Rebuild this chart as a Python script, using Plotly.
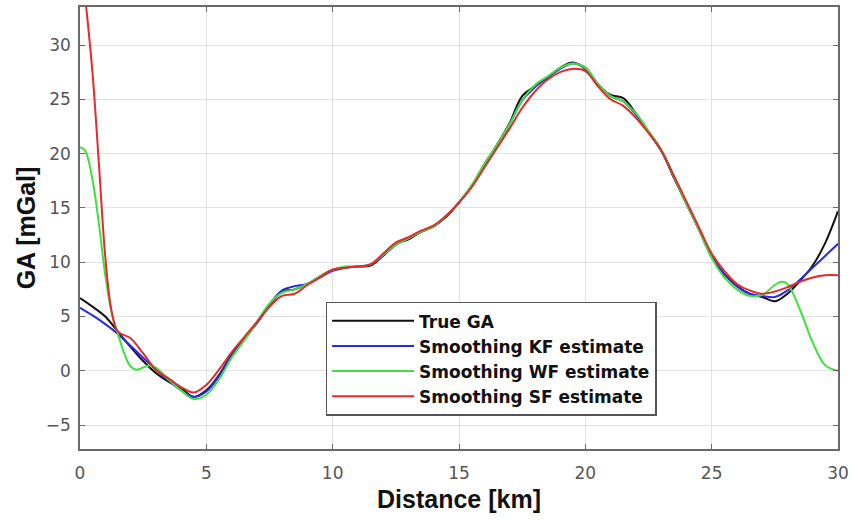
import plotly.graph_objects as go

# ---- data ----
dist = [i * 0.5 for i in range(61)]

ga_true = [6.7, 5.9, 5.0, 3.6, 2.2, 0.9, -0.2, -1.0, -1.6, -2.4,
           -1.8, -0.4, 1.5, 2.9, 4.4, 6.0, 7.3, 7.5, 8.0, 8.7,
           9.3, 9.5, 9.6, 9.7, 10.6, 11.7, 12.1, 12.8, 13.3, 14.2,
           15.5, 17.0, 19.0, 20.8, 22.8, 25.3, 26.2, 27.0, 27.9, 28.4,
           27.8, 26.3, 25.4, 25.1, 23.7, 22.0, 20.3, 17.8, 15.4, 13.0,
           10.5, 8.9, 7.8, 7.1, 6.8, 6.4, 7.1, 8.3, 9.7, 11.8,
           14.7]

ga_kf = [5.8, 5.1, 4.3, 3.4, 2.3, 1.2, 0.1, -0.9, -1.8, -2.4,
         -1.9, -0.5, 1.4, 2.9, 4.4, 6.1, 7.4, 7.8, 8.0, 8.6,
         9.2, 9.5, 9.6, 9.8, 10.6, 11.6, 12.2, 12.8, 13.3, 14.2,
         15.5, 17.0, 18.9, 20.7, 22.7, 24.9, 26.1, 27.0, 27.8, 28.3,
         27.9, 26.4, 25.3, 24.8, 23.6, 22.0, 20.3, 17.9, 15.4, 13.0,
         10.5, 8.9, 7.8, 7.1, 6.9, 6.8, 7.4, 8.4, 9.5, 10.6,
         11.7]

dist_wf = [0.0, 0.2, 0.5, 0.75, 1.0, 1.25, 1.5, 1.75, 2.0, 2.25, 2.5, 2.75,
           3.0, 3.5, 4.0, 4.5, 5.0, 5.5, 6.0, 6.5, 7.0, 7.5, 8.0, 8.5,
           9.0, 9.5, 10.0, 10.5, 11.0, 11.5, 12.0, 12.5, 13.0, 13.5, 14.0,
           14.5, 15.0, 15.5, 16.0, 16.5, 17.0, 17.5, 18.0, 18.5, 19.0, 19.5,
           20.0, 20.5, 21.0, 21.5, 22.0, 22.5, 23.0, 23.5, 24.0, 24.5, 25.0,
           25.5, 26.0, 26.5, 27.0, 27.5, 27.75, 28.0, 28.5, 29.0, 29.5, 30.0]
ga_wf = [20.6, 20.3, 17.5, 13.5, 8.8, 5.4, 3.4, 1.6, 0.4, 0.1, 0.3, 0.5,
         0.3, -0.8, -1.8, -2.6, -2.2, -0.8, 1.2, 2.8, 4.5, 6.2, 7.2, 7.5,
         8.0, 8.7, 9.3, 9.6, 9.6, 9.8, 10.7, 11.6, 12.2, 12.8, 13.3,
         14.3, 15.5, 17.1, 19.0, 20.8, 22.7, 24.9, 26.3, 27.1, 27.9, 28.3,
         27.9, 26.4, 25.3, 24.8, 23.7, 22.1, 20.4, 17.9, 15.4, 13.0, 10.4,
         8.6, 7.5, 6.9, 7.0, 7.9, 8.2, 8.0, 5.6, 2.6, 0.5, 0.0]

dist_sf = [0.0, 0.25, 0.5, 0.75, 1.0, 1.25, 1.5, 2.0, 2.5, 3.0, 3.5, 4.0,
           4.5, 5.0, 5.5, 6.0, 6.5, 7.0, 7.5, 8.0, 8.5, 9.0, 9.5, 10.0,
           10.5, 11.0, 11.5, 12.0, 12.5, 13.0, 13.5, 14.0, 14.5, 15.0, 15.5,
           16.0, 16.5, 17.0, 17.5, 18.0, 18.5, 19.0, 19.5, 20.0, 20.5, 21.0,
           21.5, 22.0, 22.5, 23.0, 23.5, 24.0, 24.5, 25.0, 25.5, 26.0, 26.5,
           27.0, 27.5, 28.0, 28.5, 29.0, 29.5, 30.0]
ga_sf = [39.0, 33.4, 27.3, 19.0, 10.5, 5.5, 3.6, 3.0, 1.6, 0.1, -0.7, -1.5,
         -2.0, -1.3, 0.1, 1.7, 3.1, 4.5, 5.9, 6.9, 7.1, 7.9, 8.6, 9.3,
         9.5, 9.6, 9.8, 10.8, 11.8, 12.3, 12.9, 13.4, 14.3, 15.5, 16.9,
         18.7, 20.5, 22.3, 24.2, 25.7, 26.8, 27.5, 27.8, 27.6, 26.2, 25.0,
         24.4, 23.3, 21.9, 20.3, 18.0, 15.6, 13.2, 10.8, 9.2, 8.0, 7.4,
         7.1, 7.3, 7.7, 8.2, 8.6, 8.8, 8.8]

names = ["True GA", "Smoothing KF estimate", "Smoothing WF estimate", "Smoothing SF estimate"]
colors = ["#111111", "#2a2ae6", "#3ee03e", "#e42a2a"]

FONT = "Liberation Sans, Arial, sans-serif"
TICKFONT = "DejaVu Sans, sans-serif"

fig = go.Figure()
series = [(dist, ga_true), (dist, ga_kf), (dist_wf, ga_wf), (dist_sf, ga_sf)]
for (xs, ys), n, c in zip(series, names, colors):
    fig.add_trace(go.Scatter(x=xs, y=ys, mode="lines", name=n,
                             line=dict(color=c, width=2, shape="spline", smoothing=1.0)))

axis_common = dict(
    showgrid=True, gridcolor="#e2e2e2", gridwidth=1,
    showline=True, linecolor="#6a6a6a", linewidth=1.5, mirror="ticks",
    ticks="inside", ticklen=5, tickcolor="#6a6a6a", tickwidth=1,
    zeroline=False,
    tickfont=dict(family=TICKFONT, size=17, color="#555555"),
)

fig.update_layout(
    width=854, height=520,
    margin=dict(l=80, r=14, t=5, b=71),
    paper_bgcolor="white", plot_bgcolor="white",
    showlegend=True,
    legend=dict(x=0.324, y=0.333, xanchor="left", yanchor="top",
                bgcolor="white", bordercolor="#555555", borderwidth=1.5,
                font=dict(family="DejaVu Sans, sans-serif", size=17, color="#111111",
                          weight="bold"),
                tracegroupgap=0, itemwidth=82),
    xaxis=dict(range=[0, 30], tickvals=[0, 5, 10, 15, 20, 25, 30],
               ticklabelstandoff=8,
               title=dict(text="Distance [km]", standoff=8,
                          font=dict(family=FONT, size=25, color="#111111", weight="bold")),
               **axis_common),
    yaxis=dict(range=[-7.2, 33.5], tickvals=[-5, 0, 5, 10, 15, 20, 25, 30],
               ticklabelstandoff=4,
               title=dict(text="GA [mGal]", standoff=3,
                          font=dict(family=FONT, size=25, color="#111111", weight="bold")),
               **axis_common),
)

fig.write_html("out.html", config={"displayModeBar": False},
               post_script="document.body.style.margin='0px';")
